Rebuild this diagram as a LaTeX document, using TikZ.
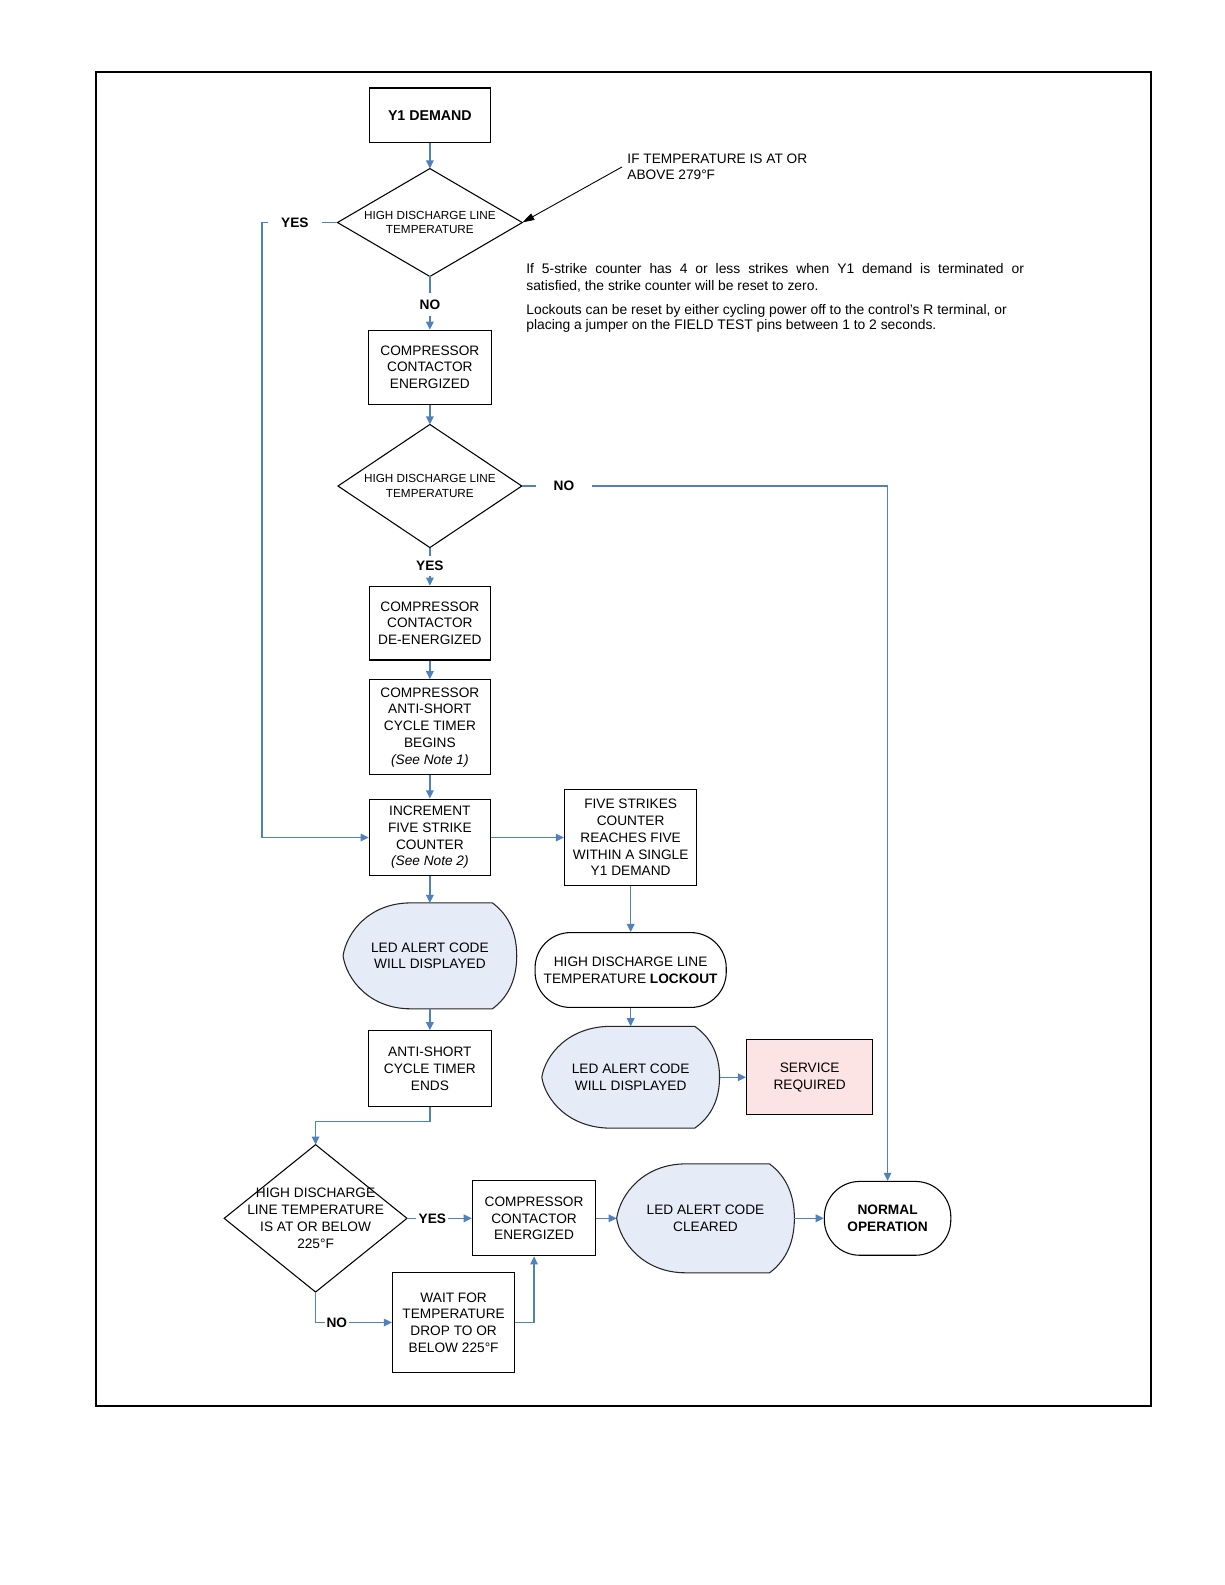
\documentclass[tikz,border=0pt]{standalone}
\usepackage{fontspec}
\setmainfont{Liberation Sans}
\usetikzlibrary{arrows.meta,backgrounds,calc}

\definecolor{flowblue}{RGB}{79,129,189}
\definecolor{ledblue}{RGB}{230,236,247}
\definecolor{servpink}{RGB}{253,228,228}

\tikzset{
  box/.style={draw, line width=0.6pt, align=center, inner sep=1pt},
  term/.style={box, rounded corners=7mm},
  cond/.style={align=center, inner sep=0pt},
  ledbox/.style={align=center, inner sep=0pt},
  flow/.style={draw=flowblue, line width=0.75pt, -{Triangle[length=1.6mm,width=1.5mm]}},
  wire/.style={draw=flowblue, line width=0.75pt},
  lbl/.style={inner sep=0pt, font=\fontsize{7.7pt}{9pt}\selectfont\bfseries},
}

% display symbol drawn round a node
\newcommand\ledshape[1]{%
  \filldraw[fill=ledblue, draw=black!85, line width=0.6pt]
    let \p1=(#1.north west), \p2=(#1.south east),
        \n1={\x2-\x1}, \n2={\y1-\y2} in
    ({\x1+0.39*\n1},\y1) -- ({\x1+0.86*\n1},\y1)
    .. controls ({\x1+0.96*\n1},{\y1-0.12*\n2}) and (\x2,{\y1-0.3*\n2}) .. (\x2,{\y1-0.5*\n2})
    .. controls (\x2,{\y1-0.7*\n2}) and ({\x1+0.96*\n1},{\y1-0.88*\n2}) .. ({\x1+0.86*\n1},\y2)
    -- ({\x1+0.39*\n1},\y2)
    .. controls ({\x1+0.15*\n1},\y2) and ({\x1+0.02*\n1},{\y1-0.72*\n2}) .. (\x1,{\y1-0.5*\n2})
    .. controls ({\x1+0.02*\n1},{\y1-0.28*\n2}) and ({\x1+0.15*\n1},\y1) .. ({\x1+0.39*\n1},\y1)
    -- cycle;}

\begin{document}
\begin{tikzpicture}[x=0.2mm, y=-0.2mm, font=\fontsize{7.7pt}{9.4pt}\selectfont]
\useasboundingbox (0,0) rectangle (1211,1567);

% frame
\draw[line width=1.15pt] (95,71) rectangle (1138,1390);

% left column
\node[box, minimum width=24mm, minimum height=10.8mm, font=\fontsize{8pt}{9.4pt}\selectfont\bfseries] (y1) at (425,114) {Y1 DEMAND};
\node[cond, minimum width=36.4mm, minimum height=21.2mm, font=\fontsize{6.6pt}{8pt}\selectfont] (d1) at (425,220) {HIGH DISCHARGE LINE\\TEMPERATURE};
\node[box, minimum width=24.2mm, minimum height=14.6mm] (ce1) at (425,363) {COMPRESSOR\\CONTACTOR\\ENERGIZED};
\node[cond, minimum width=36.2mm, minimum height=24.2mm, font=\fontsize{6.6pt}{8pt}\selectfont] (d2) at (425,480.5) {HIGH DISCHARGE LINE\\TEMPERATURE};
\node[box, minimum width=24mm, minimum height=14.6mm] (cde) at (425,616) {COMPRESSOR\\CONTACTOR\\DE-ENERGIZED};
\node[box, minimum width=24mm, minimum height=18.8mm] (astb) at (425,719) {COMPRESSOR\\ANTI-SHORT\\CYCLE TIMER\\BEGINS\\\textit{(See Note 1)}};
\node[box, minimum width=24mm, minimum height=15.2mm] (inc) at (425,828) {INCREMENT\\FIVE STRIKE\\COUNTER\\\textit{(See Note 2)}};
\node[ledbox, minimum width=34.2mm, minimum height=20.8mm] (led1) at (425,945) {LED ALERT CODE\\WILL DISPLAYED};
\node[box, minimum width=24.4mm, minimum height=15mm] (aste) at (425,1056.5) {ANTI-SHORT\\CYCLE TIMER\\ENDS};

% right column
\node[box, minimum width=26.2mm, minimum height=19mm] (five) at (623.5,828) {FIVE STRIKES\\COUNTER\\REACHES FIVE\\WITHIN A SINGLE\\Y1 DEMAND};
\node[term, minimum width=37.8mm, minimum height=14.8mm] (lock) at (623.5,959) {HIGH DISCHARGE LINE\\TEMPERATURE \textbf{LOCKOUT}};
\node[ledbox, minimum width=35mm, minimum height=20mm] (led2) at (623.5,1065) {LED ALERT CODE\\WILL DISPLAYED};
\node[box, fill=servpink, minimum width=25mm, minimum height=14.8mm] (serv) at (800.5,1065) {SERVICE\\REQUIRED};

% bottom row
\node[cond, minimum width=36mm, minimum height=29mm, font=\fontsize{7.7pt}{9.6pt}\selectfont] (d3) at (312,1204.5) {HIGH DISCHARGE\\LINE TEMPERATURE\\IS AT OR BELOW\\225°F};
\node[box, minimum width=24.4mm, minimum height=14.8mm] (ce2) at (528,1204.5) {COMPRESSOR\\CONTACTOR\\ENERGIZED};
\node[box, minimum width=24.2mm, minimum height=19.8mm] (wait) at (448.5,1307.5) {WAIT FOR\\TEMPERATURE\\DROP TO OR\\BELOW 225°F};
\node[ledbox, minimum width=35mm, minimum height=21.4mm] (led3) at (697.5,1204.5) {LED ALERT CODE\\CLEARED};
\node[term, minimum width=25mm, minimum height=14.6mm, font=\fontsize{7.7pt}{9.4pt}\selectfont\bfseries] (norm) at (877.5,1204.5) {NORMAL\\OPERATION};

% decision diamonds
\foreach \d in {d1,d2,d3}{
  \draw[line width=0.6pt] (\d.north) -- (\d.east) -- (\d.south) -- (\d.west) -- cycle;
}

% yes / no labels
\node[lbl, minimum width=10.6mm] (yes1) at (291.5,220) {YES};
\node[lbl, minimum height=4.4mm] (no1) at (425,301) {NO};
\node[lbl, minimum width=11mm] (no2) at (557.5,480.5) {NO};
\node[lbl, minimum height=3.8mm] (yes2) at (425,559.5) {YES};
\node[lbl, minimum width=6.2mm] (yes3) at (427.5,1204.5) {YES};
\node[lbl, minimum width=4.6mm] (no3) at (333,1307.5) {NO};
\coordinate (c1) at (259,220);

% notes
\node[align=left, anchor=west, inner sep=1mm] (ann) at (615,165) {IF TEMPERATURE IS AT OR\\ABOVE 279°F};
\node[anchor=west, align=left, inner sep=0pt, font=\fontsize{7.8pt}{9.6pt}\selectfont] (note1) at (520,274.5)
  {\makebox[98.4mm][s]{If 5-strike counter has 4 or less strikes when Y1 demand is terminated or}\\satisfied, the strike counter will be reset to zero.};
\node[anchor=west, align=left, inner sep=0pt, font=\fontsize{7.8pt}{8.6pt}\selectfont] (note2) at (520,314.5)
  {Lockouts can be reset by either cycling power off to the control's R terminal, or\\placing a jumper on the FIELD TEST pins between 1 to 2 seconds.};

% connectors
\draw[flow] (y1) -- (d1);
\draw[-{Triangle[length=2.4mm,width=1.4mm]}, line width=0.5pt] (ann.west) -- (d1.east);
\draw[wire] (d1.west) -- (yes1.east);
\draw[flow] (yes1.west) -- (c1) |- (inc.west);
\draw[wire] (d1.south) -- (no1.north);
\draw[flow] (no1.south) -- (ce1.north);
\draw[flow] (ce1) -- (d2);
\draw[wire] (d2.east) -- (no2.west);
\draw[flow] (no2.east) -| (norm.north);
\draw[wire] (d2.south) -- (yes2.north);
\draw[flow] (yes2.south) -- (cde.north);
\draw[flow] (cde) -- (astb);
\draw[flow] (astb) -- (inc);
\draw[flow] (inc) -- (five);
\draw[flow] (five) -- (lock);
\draw[flow] (lock) -- (led2);
\draw[flow] (led2) -- (serv);
\draw[flow] (inc) -- (led1);
\draw[flow] (led1) -- (aste);
\draw[flow] (aste.south) -- ++(0,14) -| (d3.north);
\draw[wire] (d3.east) -- (yes3.west);
\draw[flow] (yes3.east) -- (ce2.west);
\draw[wire] (d3.south) |- (no3.west);
\draw[flow] (no3.east) -- (wait.west);
\draw[flow] (wait.east) -| (ce2.south);
\draw[flow] (ce2) -- (led3);
\draw[flow] (led3) -- (norm);

\begin{scope}[on background layer]
  \fill[white] (0,0) rectangle (1211,1567);
  \foreach \l in {led1,led2,led3}{\ledshape{\l}}
\end{scope}
\end{tikzpicture}
\end{document}
